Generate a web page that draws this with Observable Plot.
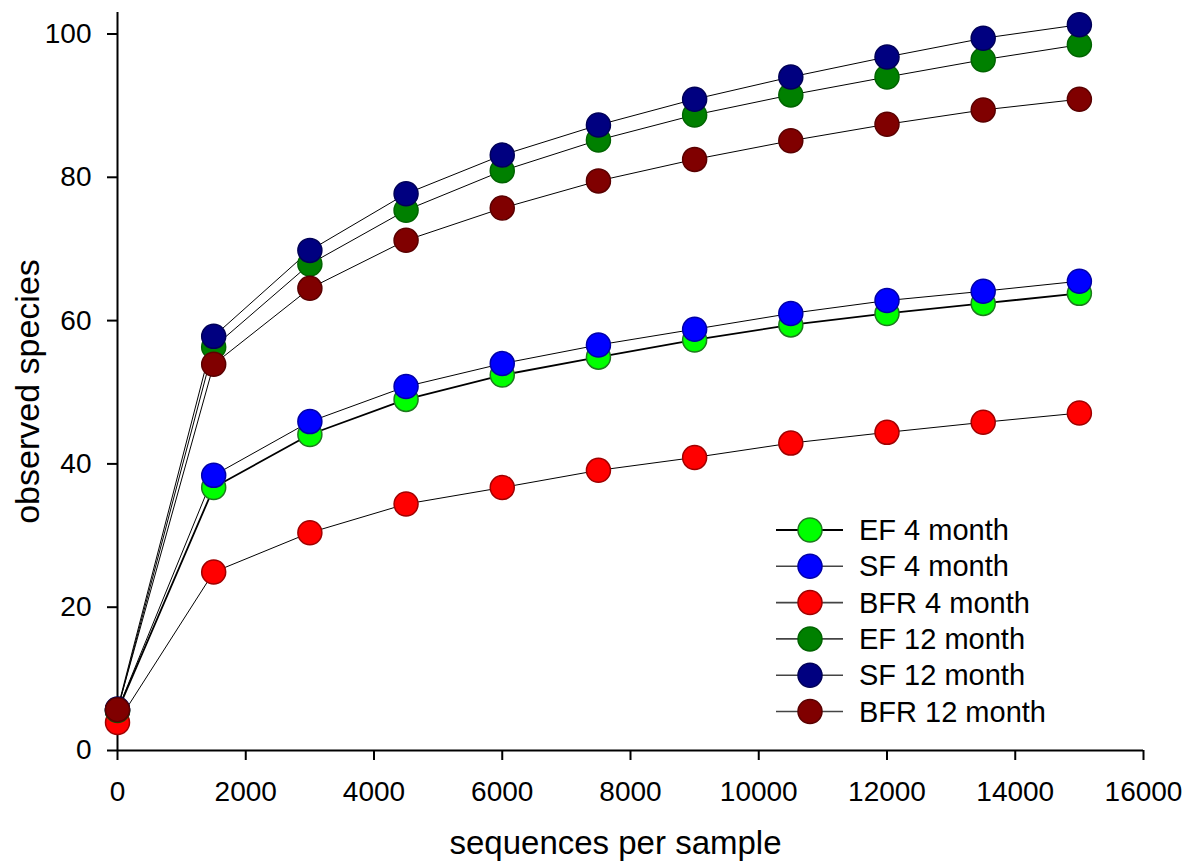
<!DOCTYPE html>
<html>
<head>
<meta charset="utf-8">
<script src="https://cdn.jsdelivr.net/npm/d3@7"></script>
<script src="https://cdn.jsdelivr.net/npm/@observablehq/plot@0.6"></script>
<style>
  html, body { margin: 0; padding: 0; background: white; }
  #chart { width: 1203px; height: 862px; }
</style>
</head>
<body>
<div id="chart"></div>
<script>
// ---- data ----
const xs = [0, 1500, 3000, 4500, 6000, 7500, 9000, 10500, 12000, 13500, 15000];
const seriesNames = ["EF 4 month", "SF 4 month", "BFR 4 month", "EF 12 month", "SF 12 month", "BFR 12 month"];
const ef4   = [5.5, 36.7, 44.1, 49.0, 52.4, 54.9, 57.3, 59.4, 61.0, 62.4, 63.8];
const sf4   = [5.6, 38.4, 45.9, 50.8, 54.0, 56.6, 58.8, 61.0, 62.8, 64.1, 65.5];
const bfr4  = [3.9, 24.9, 30.4, 34.4, 36.7, 39.1, 40.9, 42.9, 44.4, 45.8, 47.1];
const ef12  = [5.6, 56.3, 67.9, 75.4, 80.9, 85.2, 88.7, 91.5, 94.0, 96.4, 98.5];
const sf12  = [5.8, 57.8, 69.8, 77.7, 83.1, 87.3, 90.9, 94.0, 96.8, 99.4, 101.3];
const bfr12 = [5.7, 53.9, 64.5, 71.2, 75.7, 79.5, 82.5, 85.1, 87.4, 89.4, 90.9];
const xTicks = [0, 2000, 4000, 6000, 8000, 10000, 12000, 14000, 16000];
const yTicks = [0, 20, 40, 60, 80, 100];

// ---- styles ----
const values = [ef4, sf4, bfr4, ef12, sf12, bfr12];
const fills   = ["#00ff00", "#0000ff", "#ff0000", "#008000", "#000080", "#800000"];
const strokes = ["#1e7a1e", "#0000a8", "#a00000", "#006400", "#000058", "#5a0000"];
const lineWidths = [1.8, 1, 1, 1, 1, 1];

const data = seriesNames.map((name, i) => xs.map((x, j) => ({series: name, x, y: values[i][j]})));

const font = "'Liberation Sans', Arial, Helvetica, sans-serif";

const marks = [
  Plot.ruleY([0], {x1: 0, x2: 16000, stroke: "black", strokeWidth: 2}),
  Plot.ruleX([0], {y1: 0, y2: 103, stroke: "black", strokeWidth: 2}),
  Plot.axisX({ticks: xTicks, tickSize: 10, tickPadding: 21, fontSize: 28, label: null, strokeWidth: 2, tickFormat: d => String(d)}),
  Plot.axisY({ticks: yTicks, tickSize: 10, tickPadding: 16, fontSize: 28, label: null, strokeWidth: 2, tickFormat: d => String(d)}),
  Plot.text(["sequences per sample"], {frameAnchor: "bottom", textAnchor: "middle", lineAnchor: "middle", dx: -15, dy: 93, fontSize: 33}),
  Plot.text(["observed species"], {frameAnchor: "left", textAnchor: "middle", lineAnchor: "middle", rotate: -90, dx: -89, dy: 10, fontSize: 34})
];
data.forEach((d, i) => {
  marks.push(Plot.line(d, {x: "x", y: "y", stroke: "black", strokeWidth: lineWidths[i]}));
});
data.forEach((d, i) => {
  marks.push(Plot.dot(d, {x: "x", y: "y", r: 12, fill: fills[i], stroke: strokes[i], strokeWidth: 1.5}));
});

const plot = Plot.plot({
  width: 1203,
  height: 862,
  marginLeft: 117,
  marginRight: 60,
  marginTop: 12,
  marginBottom: 112,
  x: {domain: [0, 16000]},
  y: {domain: [0, 103]},
  style: {fontFamily: font, fontSize: "28px", color: "black", background: "white", overflow: "visible"},
  marks
});

// ---- legend (inside plot area) ----
const svg = d3.select(plot);
const lg = svg.append("g").attr("font-family", font).attr("font-size", 29).attr("text-anchor", "start");
const legX0 = 776, legX1 = 843, legCx = 810, legTx = 859, legY0 = 530, legDy = 36.3;
seriesNames.forEach((name, i) => {
  const y = legY0 + i * legDy;
  lg.append("line").attr("x1", legX0).attr("x2", legX1).attr("y1", y).attr("y2", y)
    .attr("stroke", i === 0 ? "black" : "#444").attr("stroke-width", i === 0 ? 2.2 : 1.6);
  lg.append("circle").attr("cx", legCx).attr("cy", y).attr("r", 12)
    .attr("fill", fills[i]).attr("stroke", strokes[i]).attr("stroke-width", 1.5);
  lg.append("text").attr("x", legTx).attr("y", y).attr("dy", "0.35em").attr("fill", "black").text(name);
});

document.getElementById("chart").appendChild(plot);
</script>
</body>
</html>
